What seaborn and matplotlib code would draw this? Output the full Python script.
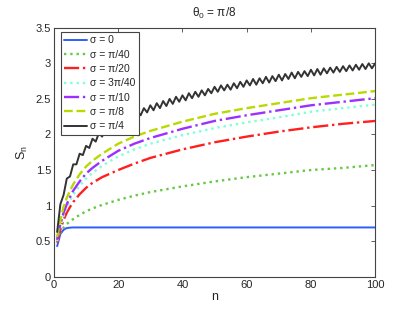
import numpy as np
import pandas as pd
import matplotlib
matplotlib.use("Agg")
import matplotlib.pyplot as plt
import seaborn as sns

# ── data ──────────────────────────────────────────────────────────
n_all = list(range(1, 101))
n_smooth = [1, 2, 3, 4, 5, 6, 8, 10, 12, 15, 20, 25, 30, 40, 50, 60, 70, 80, 90, 100]

s_0 = [0.43, 0.60, 0.66, 0.685, 0.69, 0.693, 0.693, 0.693, 0.693, 0.693,
       0.693, 0.693, 0.693, 0.693, 0.693, 0.693, 0.693, 0.693, 0.693, 0.693]
s_pi40 = [0.52, 0.62, 0.69, 0.74, 0.78, 0.81, 0.87, 0.92, 0.96, 1.01,
          1.08, 1.14, 1.19, 1.27, 1.34, 1.40, 1.45, 1.50, 1.53, 1.57]
s_pi20 = [0.48, 0.66, 0.80, 0.90, 0.98, 1.05, 1.16, 1.25, 1.32, 1.40,
          1.50, 1.59, 1.67, 1.79, 1.89, 1.97, 2.04, 2.10, 2.15, 2.19]
s_3pi40 = [0.50, 0.70, 0.85, 0.97, 1.07, 1.15, 1.28, 1.38, 1.46, 1.56,
           1.69, 1.79, 1.87, 1.99, 2.09, 2.17, 2.24, 2.32, 2.37, 2.42]
s_pi10 = [0.52, 0.74, 0.90, 1.02, 1.12, 1.21, 1.34, 1.45, 1.53, 1.63,
          1.77, 1.87, 1.95, 2.08, 2.19, 2.27, 2.34, 2.41, 2.46, 2.51]
s_pi8 = [0.56, 0.80, 0.98, 1.11, 1.21, 1.30, 1.44, 1.55, 1.63, 1.73,
         1.87, 1.97, 2.05, 2.18, 2.29, 2.37, 2.44, 2.51, 2.56, 2.61]
s_pi4 = [0.63, 1.02, 1.15, 1.38, 1.41, 1.58, 1.58, 1.73, 1.71, 1.84,
         1.81, 1.94, 1.90, 2.02, 1.97, 2.08, 2.04, 2.14, 2.09, 2.20,
         2.14, 2.25, 2.19, 2.29, 2.23, 2.33, 2.27, 2.37, 2.31, 2.41,
         2.34, 2.44, 2.37, 2.47, 2.40, 2.50, 2.43, 2.53, 2.46, 2.55,
         2.48, 2.58, 2.51, 2.60, 2.53, 2.62, 2.55, 2.64, 2.58, 2.67,
         2.60, 2.69, 2.62, 2.70, 2.63, 2.72, 2.65, 2.74, 2.67, 2.76,
         2.69, 2.78, 2.70, 2.79, 2.72, 2.81, 2.73, 2.82, 2.75, 2.84,
         2.76, 2.85, 2.78, 2.87, 2.79, 2.88, 2.81, 2.89, 2.82, 2.91,
         2.83, 2.92, 2.84, 2.93, 2.86, 2.94, 2.87, 2.95, 2.88, 2.96,
         2.89, 2.97, 2.90, 2.98, 2.91, 2.99, 2.92, 3.00, 2.93, 3.00]

labels = ["σ = 0", "σ = π/40", "σ = π/20", "σ = 3π/40", "σ = π/10", "σ = π/8", "σ = π/4"]
colors = ["#2f5cff", "#66c843", "#ff1f1f", "#7fffd8", "#9b30ff", "#b9d900", "#333333"]
styles = ["-", ":", "-.", ":", "-.", "--", "-"]
series = [s_0, s_pi40, s_pi20, s_3pi40, s_pi10, s_pi8, s_pi4]

x_ticks = [0, 20, 40, 60, 80, 100]
y_ticks = [0, 0.5, 1, 1.5, 2, 2.5, 3, 3.5]
y_ticklabels = ["0", "0.5", "1", "1.5", "2", "2.5", "3", "3.5"]

# ── plot ──────────────────────────────────────────────────────────
sns.set_style("white")
plt.rcParams["font.family"] = ["Liberation Sans", "DejaVu Sans"]
plt.rcParams["mathtext.fontset"] = "custom"
plt.rcParams["mathtext.rm"] = "Liberation Sans"
plt.rcParams["mathtext.it"] = "Liberation Sans"

fig = plt.figure(figsize=(4.15, 3.12), dpi=100)
ax = fig.add_axes([0.130, 0.113, 0.774, 0.798])

for lab, col, ls, ys in zip(labels, colors, styles, series):
    xs = n_all if len(ys) == 100 else n_smooth
    df = pd.DataFrame({"n": xs, "S": ys})
    lw = 1.7 if ls in (":", "--", "-.") else 1.4
    sns.lineplot(data=df, x="n", y="S", ax=ax, color=col, linestyle=ls,
                 linewidth=lw, label=lab)

ax.set_xlim(0, 100)
ax.set_ylim(0, 3.5)
ax.set_xticks(x_ticks)
ax.set_yticks(y_ticks)
ax.set_yticklabels(y_ticklabels)
ax.tick_params(direction="in", top=True, right=True, labelsize=8,
               length=3, width=0.6, color="#444444", pad=2)
for sp in ax.spines.values():
    sp.set_color("#444444")
    sp.set_linewidth(0.8)

ax.set_xlabel("n", fontsize=9, labelpad=1)
ax.set_ylabel("S$_n$", fontsize=9, labelpad=4)
ax.set_title("θ$_0$ = π/8", fontsize=8.5, pad=8)

leg = ax.legend(loc="upper left", bbox_to_anchor=(0.021, 0.985),
                fontsize=7.5, frameon=True, fancybox=False,
                edgecolor="#444444", framealpha=1, handlelength=2.2,
                handletextpad=0.3, labelspacing=0.42, borderpad=0.35,
                borderaxespad=0.0)
leg.get_frame().set_linewidth(0.8)

fig.savefig("out.png", dpi=100, facecolor="white")
